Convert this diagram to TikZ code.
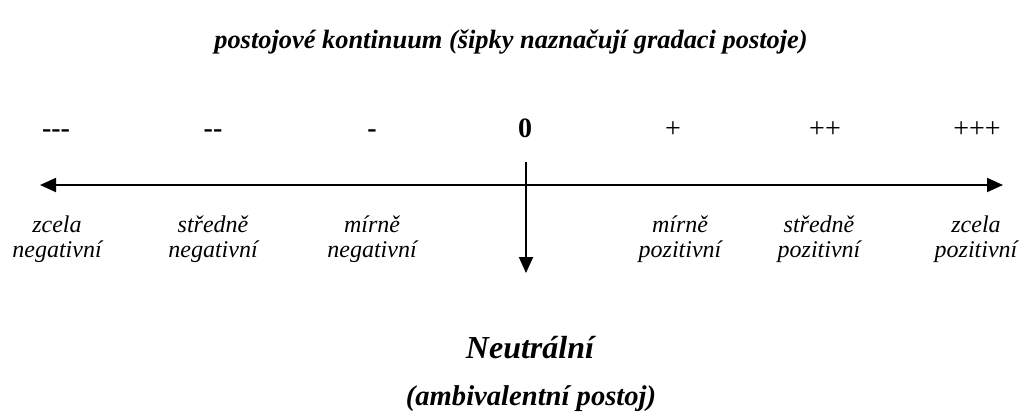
\documentclass[tikz,border=0pt]{standalone}
\usepackage{fontspec}
\setmainfont{Liberation Serif}
\usetikzlibrary{arrows.meta}
\begin{document}
\begin{tikzpicture}[x=0.5pt,y=-0.5pt,
  axis/.style={line width=1pt,-{Triangle[length=8pt,width=7pt]}},
  grade/.style={anchor=base,inner sep=0pt,font=\fontsize{14}{16}\selectfont},
  boldgrade/.style={grade,font=\fontsize{14}{16}\selectfont\bfseries},
  lbl/.style={anchor=base,inner sep=0pt,align=center,font=\fontsize{12}{12.5}\selectfont\itshape},
  ttl/.style={anchor=base,inner sep=0pt,font=\fontsize{13.2}{15}\selectfont\bfseries\itshape}]
\useasboundingbox (0,0) rectangle (1022,414);
\node[ttl] (title) at (511,48) {postojové kontinuum (šipky naznačují gradaci postoje)};
% grades
\node[boldgrade] (g1) at (56,137) {\hbox{-}\hbox{-}\hbox{-}};
\node[boldgrade] (g2) at (213,137) {\hbox{-}\hbox{-}};
\node[boldgrade] (g3) at (372,137) {\hbox{-}};
\node[boldgrade] (g4) at (525,137) {0};
\node[grade] (g5) at (673,137) {+};
\node[grade] (g6) at (825,137) {++};
\node[grade] (g7) at (977,137) {+++};
% axis
\coordinate (left) at (40,185);
\coordinate (right) at (1003,185);
\coordinate (vtop) at (526,162);
\coordinate (vbot) at (526,273);
\draw[axis,{Triangle[length=8pt,width=7pt]}-{Triangle[length=8pt,width=7pt]}] (left) -- (right);
\draw[axis] (vtop) -- (vbot);
% labels
\node[lbl] (l1) at (57,257) {zcela\\negativní};
\node[lbl] (l2) at (213,257) {středně\\negativní};
\node[lbl] (l3) at (372,257) {mírně\\negativní};
\node[lbl] (l4) at (680,257) {mírně\\pozitivní};
\node[lbl] (l5) at (819,257) {středně\\pozitivní};
\node[lbl] (l6) at (976,257) {zcela\\pozitivní};
% neutral
\node[anchor=base,inner sep=0pt,font=\fontsize{16}{18}\selectfont\bfseries\itshape] (neu) at (530,358) {Neutrální};
\node[anchor=base,inner sep=0pt,font=\fontsize{14.3}{16}\selectfont\bfseries\itshape] (amb) at (531,405) {(ambivalentní postoj)};
\end{tikzpicture}
\end{document}
